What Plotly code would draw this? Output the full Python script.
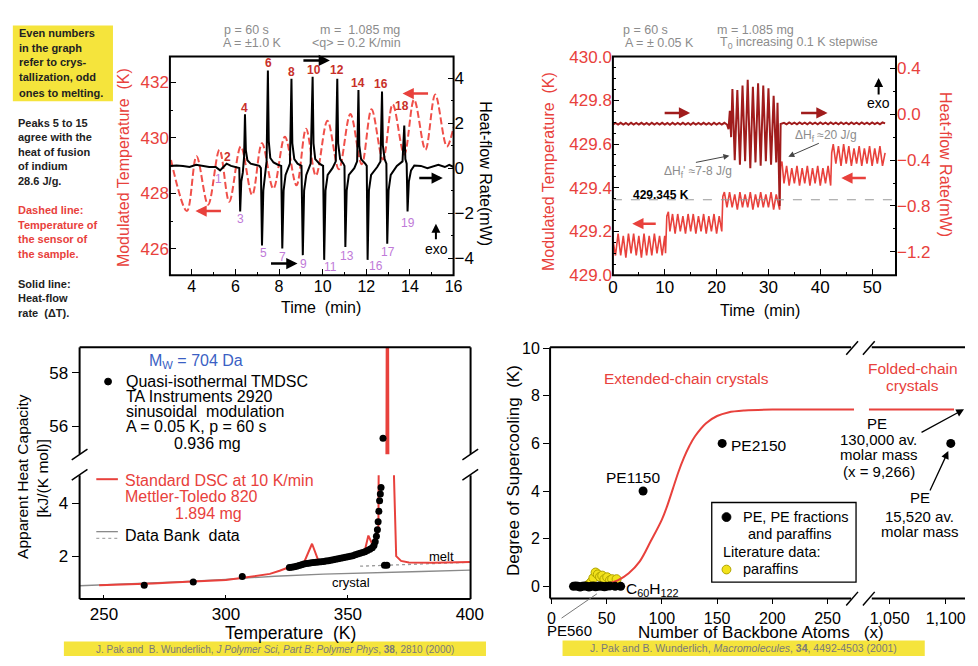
import plotly.graph_objects as go

W, H = 978, 666
FONT = "Liberation Sans, Arial, Helvetica, sans-serif"

# ================= DATA =================
# Panel A: modulated temperature (dashed, extrema)
a_temp_t = [3.05, 3.78, 4.22, 4.75, 5.27, 5.72, 6.25, 6.77, 7.22, 7.74, 8.27, 8.80, 9.24, 9.69,
            10.22, 10.74, 11.27, 11.79, 12.24, 12.76, 13.21, 13.74, 14.19, 14.71, 15.16, 15.69, 16.0]
a_temp_v = [429.2, 427.36, 429.34, 427.59, 429.57, 427.70, 429.69, 427.94, 429.81, 428.17, 430.04, 428.29,
            430.33, 428.64, 430.62, 428.87, 430.86, 429.05, 431.03, 429.22, 431.21, 429.40, 431.38, 429.57,
            431.56, 429.69, 430.39]
# Panel A: heat-flow rate (solid)
a_hf_t = [3.0, 3.3, 3.6, 3.9, 4.2, 4.5, 4.8, 5.1, 5.3, 5.45, 5.6, 5.8, 6.0, 6.18,
          6.22, 6.27, 6.34,
          6.40, 6.44, 6.48, 6.55, 6.7, 6.9, 7.1, 7.17,
          7.22, 7.28, 7.35, 7.43,
          7.49, 7.53, 7.6, 7.75, 7.95, 8.1,
          8.15, 8.21, 8.3, 8.5,
          8.57, 8.61, 8.7, 8.85, 9.03,
          9.09, 9.15, 9.25, 9.45,
          9.54, 9.58, 9.66, 9.85, 10.02,
          10.07, 10.13, 10.23, 10.45, 10.6,
          10.67, 10.71, 10.8, 10.95, 11.0,
          11.04, 11.1, 11.2, 11.45, 11.58,
          11.64, 11.68, 11.76, 11.95, 12.02,
          12.06, 12.12, 12.22, 12.5, 12.65,
          12.72, 12.76, 12.84, 12.92,
          12.96, 13.02, 13.12, 13.4, 13.66,
          13.74, 13.79, 13.85,
          13.89, 13.95, 14.05, 14.2, 14.5, 14.8, 15.0, 15.3, 15.6, 15.8, 16.0]
a_hf_v = [0.1, 0.12, 0.1, 0.05, 0.15, 0.1, 0.05, 0.05, -0.1, 0.05, 0.2, 0.1, 0.05, 0.0,
          -1.92, -0.6, -0.2,
          0.5, 2.39, 0.8, 0.35, 0.2, 0.15, 0.1, 0.0,
          -3.43, -1.0, -0.3, 0.3,
          4.33, 1.2, 0.45, 0.25, 0.15, 0.1,
          -3.57, -1.0, -0.3, 0.2,
          3.97, 1.1, 0.4, 0.2, 0.1,
          -3.86, -1.0, -0.3, 0.2,
          4.05, 1.1, 0.4, 0.2, 0.1,
          -4.07, -1.0, -0.3, 0.0, 0.3,
          3.97, 1.1, 0.4, 0.2, 0.1,
          -3.5, -1.0, -0.3, 0.0, 0.3,
          3.47, 1.0, 0.4, 0.2, 0.1,
          -4.07, -1.0, -0.3, 0.05, 0.3,
          3.4, 1.0, 0.4, 0.2,
          -3.35, -1.0, -0.3, 0.1, 0.3,
          1.89, 0.4, 0.2,
          -1.92, -0.6, -0.1, 0.12, 0.1, 0.0, 0.05, 0.15, 0.05, 0.15, 0.05]
a_even_labels = ["2", "4", "6", "8", "10", "12", "14", "16", "18"]
a_odd_labels = ["1", "3", "5", "7", "9", "11", "13", "16", "17", "19"]

# Panel B: modulated temperature (stepwise)
b_temp_t = [0.0, 0.5, 1.0, 1.5, 2.0, 2.5, 3.0, 3.5, 4.0, 4.5, 5.0, 5.5, 6.0, 6.5, 7.0, 7.5, 8.0, 8.5, 9.0, 9.5, 10.0,
            10.15, 10.4, 10.7,
            11.0, 11.5, 12.0, 12.5, 13.0, 13.5, 14.0, 14.5, 15.0, 15.5, 16.0, 16.5, 17.0, 17.5, 18.0, 18.5, 19.0,
            19.5, 20.0, 20.5, 21.0,
            21.2, 21.5,
            22.0, 22.5, 23.0, 23.5, 24.0, 24.5, 25.0, 25.5, 26.0, 26.5, 27.0, 27.5, 28.0, 28.5, 29.0, 29.5, 30.0,
            30.5, 31.0, 31.5, 32.0, 32.15,
            32.35, 32.6,
            33.0, 33.5, 34.0, 34.5, 35.0, 35.5, 36.0, 36.5, 37.0, 37.5, 38.0, 38.5, 39.0, 39.5, 40.0, 40.5, 41.0,
            41.5, 42.0,
            42.2, 42.5,
            43.0, 43.5, 44.0, 44.5, 45.0, 45.5, 46.0, 46.5, 47.0, 47.5, 48.0, 48.5, 49.0, 49.5, 50.0, 50.5, 51.0,
            51.5, 52.0, 52.5]
b_temp_v = [429.16, 429.09, 429.19, 429.09, 429.18, 429.08, 429.19, 429.10, 429.19, 429.09, 429.18, 429.08,
            429.19, 429.09, 429.18, 429.09, 429.19, 429.10, 429.18, 429.09, 429.18,
            429.10, 429.27, 429.29,
            429.20, 429.28, 429.19, 429.28, 429.20, 429.27, 429.19, 429.28, 429.20, 429.28, 429.19, 429.27,
            429.20, 429.28, 429.19, 429.27, 429.20, 429.28, 429.19, 429.27, 429.20,
            429.36, 429.38,
            429.31, 429.38, 429.31, 429.37, 429.30, 429.38, 429.31, 429.37, 429.31, 429.38, 429.30, 429.37,
            429.31, 429.38, 429.31, 429.37, 429.31, 429.38, 429.30, 429.37, 429.31, 429.30,
            429.50, 429.52,
            429.42, 429.50, 429.41, 429.49, 429.42, 429.50, 429.41, 429.49, 429.42, 429.50, 429.41, 429.49,
            429.42, 429.50, 429.41, 429.49, 429.42, 429.50, 429.41,
            429.56, 429.60,
            429.51, 429.59, 429.50, 429.60, 429.51, 429.59, 429.50, 429.58, 429.51, 429.59, 429.50, 429.58,
            429.51, 429.59, 429.50, 429.58, 429.51, 429.59, 429.50, 429.56]
# Panel B: heat-flow rate
b_hf_t = [0.0, 0.5, 1.0, 1.5, 2.0, 2.5, 3.0, 3.5, 4.0, 4.5, 5.0, 5.5, 6.0, 6.5, 7.0, 7.5, 8.0, 8.5, 9.0, 9.5,
          10.0, 10.5, 11.0, 11.5, 12.0, 12.5, 13.0, 13.5, 14.0, 14.5, 15.0, 15.5, 16.0, 16.5, 17.0, 17.5,
          18.0, 18.5, 19.0, 19.5, 20.0, 20.5, 21.0, 21.5, 22.0,
          22.3, 22.55, 22.8, 23.05, 23.5, 24.0, 24.5, 25.0, 25.5, 26.0, 26.5, 27.0, 27.5, 28.0, 28.5, 29.0,
          29.5, 30.0, 30.5, 31.0, 31.5, 31.75, 32.0, 32.15, 32.35,
          33.0, 33.5, 34.0, 34.5, 35.0, 35.5, 36.0, 36.5, 37.0, 37.5, 38.0, 38.5, 39.0, 39.5, 40.0, 40.5,
          41.0, 41.5, 42.0, 42.5, 43.0, 43.5, 44.0, 44.5, 45.0, 45.5, 46.0, 46.5, 47.0, 47.5, 48.0, 48.5,
          49.0, 49.5, 50.0, 50.5, 51.0, 51.5, 52.0, 52.5]
b_hf_v = [-0.090, -0.076, -0.091, -0.075, -0.090, -0.077, -0.092, -0.075, -0.090, -0.076, -0.091, -0.075,
          -0.090, -0.077, -0.092, -0.075, -0.090, -0.076, -0.091, -0.075, -0.090, -0.077, -0.092, -0.075,
          -0.090, -0.076, -0.091, -0.075, -0.090, -0.077, -0.092, -0.075, -0.090, -0.076, -0.091, -0.075,
          -0.090, -0.077, -0.092, -0.075, -0.090, -0.076, -0.091, -0.075, -0.090,
          -0.13, 0.03, -0.20, 0.22, -0.40, 0.21, -0.44, 0.25, -0.41, 0.30, -0.47, 0.24, -0.42, 0.27, -0.45,
          0.25, -0.41, 0.225, -0.44, 0.16, -0.42, 0.10, -0.45, -0.80, -0.085,
          -0.075, -0.088, -0.072, -0.087, -0.074, -0.088, -0.072, -0.086, -0.074, -0.088, -0.072, -0.087,
          -0.074, -0.088, -0.072, -0.086, -0.074, -0.088, -0.072, -0.087, -0.074, -0.088, -0.072, -0.086,
          -0.074, -0.088, -0.072, -0.087, -0.074, -0.088, -0.072, -0.086, -0.074, -0.088, -0.072, -0.087,
          -0.074, -0.088, -0.072, -0.080]
b_ref_temp = 429.345

# Panel C: apparent heat capacity
c_dsc_T = [248, 260, 270, 280, 290, 300, 307, 313, 318, 322, 326, 330, 332.2, 335.3, 338.0, 342, 346, 350,
           354, 357.1, 358.4, 360, 361.5, 362.5, 363.1, 365.8, 366.2, 366.6, 368.9, 369.8, 371.8, 375, 385,
           395, 400]
c_dsc_cp = [0.90, 0.93, 0.97, 1.01, 1.05, 1.10, 1.18, 1.25, 1.33, 1.45, 1.58, 1.70, 1.80, 2.47, 1.80, 1.85,
            1.93, 2.00, 2.10, 2.28, 2.78, 2.45, 2.55, 3.0, 5.0, 55, 70, 55, 5.0, 2.0, 1.82, 1.76, 1.75,
            1.76, 1.78]
c_tmdsc_T = [266.5, 286.6, 306.7, 326, 327, 328, 329, 330, 331, 332, 333, 334, 335, 336, 337, 338, 339, 340,
             341, 342, 343, 344, 345, 346, 347, 348, 349, 350, 351, 352, 353, 354, 355, 356, 357, 358, 359,
             360, 360.7, 361.2, 361.7, 362.1, 362.4, 362.7, 363.0, 363.3, 363.6, 365.0, 366.0]
c_tmdsc_cp = [0.90, 1.02, 1.23, 1.57, 1.58, 1.60, 1.62, 1.65, 1.68, 1.70, 1.72, 1.73, 1.75, 1.76, 1.77, 1.78,
              1.79, 1.80, 1.82, 1.83, 1.85, 1.86, 1.88, 1.90, 1.92, 1.94, 1.96, 1.98, 2.00, 2.02, 2.05, 2.08,
              2.11, 2.14, 2.17, 2.21, 2.26, 2.32, 2.40, 2.55, 2.75, 3.0, 3.3, 3.7, 4.1, 4.35, 4.6, 1.66, 1.66]
c_tmdsc_hi_T = [364.4]
c_tmdsc_hi_cp = [55.55]
c_bank_crys_T = [240, 260, 280, 300, 320, 340, 360, 380, 400]
c_bank_crys_cp = [0.88, 0.95, 1.03, 1.12, 1.24, 1.32, 1.38, 1.42, 1.47]
c_bank_melt_T = [355, 370, 385, 400]
c_bank_melt_cp = [1.62, 1.67, 1.72, 1.77]

# Panel D: degree of supercooling
d_curve_x = [18, 30, 40, 50, 60, 70, 80, 90, 100, 105, 110, 115, 120, 125, 130, 140, 150, 160, 175, 200, 274]
d_curve_y = [0.0, 0.0, 0.03, 0.1, 0.25, 0.55, 1.05, 1.9, 2.8, 3.4, 4.1, 4.8, 5.4, 5.9, 6.3, 6.85, 7.15,
             7.3, 7.38, 7.42, 7.42]
d_curve_hi_x = [1031.3, 1107.5]
d_curve_hi_y = [7.42, 7.42]
d_pe_x = [20, 22, 24, 26, 28, 30, 32, 34, 36, 38, 40, 42, 44, 46, 48, 50, 53, 57.7, 62.7, 83, 154.6]
d_pe_y = [0.0, 0.02, 0.0, -0.03, 0.0, 0.02, 0.0, -0.03, 0.0, 0.02, -0.02, 0.0, 0.02, 0.0, -0.02, 0.0, 0.02,
          0.0, 0.0, 4.0, 6.0]
d_pe_hi_x = [1104.6]
d_pe_hi_y = [6.0]
d_par_x = [33, 36, 38, 40, 42, 44, 46, 48, 50.5, 53, 55, 59]
d_par_y = [0.05, 0.18, 0.35, 0.58, 0.5, 0.4, 0.45, 0.3, 0.38, 0.25, 0.3, 0.3]

# ================= COLOURS =================
RED = "#e8413c"
DASHRED = "#f0504a"
DRED = "#a01c1c"
EVEN = "#c8302a"
ODD = "#c07ad8"
GRAY = "#8c8c8c"
YEL = "#f5e43c"


def PXf(x):
    return x / W


def PYf(y):
    return 1 - y / H


def dx(a, b):
    return [a / W, b / W]


def dy(top, bottom):
    return [1 - bottom / H, 1 - top / H]


def ann(text, x, y, size=14, color="black", xa="center", ya="middle", angle=0):
    return dict(text=text, x=PXf(x), y=PYf(y), xref="paper", yref="paper", showarrow=False,
                font=dict(family=FONT, size=size, color=color), xanchor=xa, yanchor=ya, textangle=angle)


def arrow(xh, yh, xt, yt, color, width=2.5, head=2, size=0.9):
    return dict(text="", x=PXf(xh), y=PYf(yh), xref="paper", yref="paper", ax=xt - xh, ay=yt - yh,
                showarrow=True, arrowhead=head, arrowsize=size, arrowwidth=width, arrowcolor=color)


def line(x0, y0, x1, y1, color="black", width=2, dash=None):
    return dict(type="line", xref="paper", yref="paper", x0=PXf(x0), y0=PYf(y0), x1=PXf(x1), y1=PYf(y1),
                line=dict(color=color, width=width, dash=dash))


def rect(x0, y0, x1, y1, fill=None, color="black", width=2, layer="above"):
    return dict(type="rect", xref="paper", yref="paper", x0=PXf(x0), y0=PYf(y1), x1=PXf(x1), y1=PYf(y0),
                fillcolor=fill if fill else "rgba(0,0,0,0)", line=dict(color=color, width=width), layer=layer)


def dot(cx, cy, r, fill, lc=None):
    return dict(type="circle", xref="paper", yref="paper", x0=PXf(cx - r), x1=PXf(cx + r), y0=PYf(cy + r),
                y1=PYf(cy - r), fillcolor=fill, line=dict(color=lc if lc else fill, width=1))


fig = go.Figure()

# ---- Panel A traces
fig.add_trace(go.Scatter(x=a_temp_t, y=a_temp_v, mode="lines", xaxis="x", yaxis="y",
                         line=dict(color=DASHRED, width=2, dash="7px,3px", shape="spline", smoothing=1.0)))
fig.add_trace(go.Scatter(x=a_hf_t, y=a_hf_v, mode="lines", xaxis="x", yaxis="y2",
                         line=dict(color="black", width=2)))
# ---- Panel B traces
fig.add_trace(go.Scatter(x=b_temp_t, y=b_temp_v, mode="lines", xaxis="x2", yaxis="y3",
                         line=dict(color=RED, width=1.6)))
fig.add_trace(go.Scatter(x=b_hf_t, y=b_hf_v, mode="lines", xaxis="x2", yaxis="y4",
                         line=dict(color=DRED, width=2)))
# ---- Panel C traces
for ya in ("y5", "y6"):
    fig.add_trace(go.Scatter(x=c_bank_crys_T, y=c_bank_crys_cp, mode="lines", xaxis="x3", yaxis=ya,
                             line=dict(color="#8a8a8a", width=1.3)))
fig.add_trace(go.Scatter(x=c_bank_melt_T, y=c_bank_melt_cp, mode="lines", xaxis="x3", yaxis="y5",
                         line=dict(color="#9a9a9a", width=1.3, dash="dot")))
for ya in ("y5", "y6"):
    fig.add_trace(go.Scatter(x=c_dsc_T, y=c_dsc_cp, mode="lines", xaxis="x3", yaxis=ya,
                             line=dict(color=RED, width=2)))
fig.add_trace(go.Scatter(x=c_tmdsc_T, y=c_tmdsc_cp, mode="markers", xaxis="x3", yaxis="y5",
                         marker=dict(color="black", size=7)))
fig.add_trace(go.Scatter(x=c_tmdsc_hi_T, y=c_tmdsc_hi_cp, mode="markers", xaxis="x3", yaxis="y6",
                         marker=dict(color="black", size=7)))
# ---- Panel D traces
fig.add_trace(go.Scatter(x=d_par_x, y=d_par_y, mode="markers", xaxis="x4", yaxis="y7",
                         marker=dict(color="#f2e21b", size=9, line=dict(color="#b0a400", width=1))))
fig.add_trace(go.Scatter(x=d_curve_x, y=d_curve_y, mode="lines", xaxis="x4", yaxis="y7",
                         line=dict(color=RED, width=2, shape="spline")))
fig.add_trace(go.Scatter(x=d_curve_hi_x, y=d_curve_hi_y, mode="lines", xaxis="x5", yaxis="y7",
                         line=dict(color=RED, width=2)))
fig.add_trace(go.Scatter(x=d_pe_x, y=d_pe_y, mode="markers", xaxis="x4", yaxis="y7",
                         marker=dict(color="black", size=9)))
fig.add_trace(go.Scatter(x=d_pe_hi_x, y=d_pe_hi_y, mode="markers", xaxis="x5", yaxis="y7",
                         marker=dict(color="black", size=9)))

tf = lambda c="black", s=16: dict(family=FONT, size=s, color=c)
base = dict(showgrid=False, zeroline=False, showline=False, tickcolor="black", tickwidth=1.3)

layout_axes = dict(
    xaxis=dict(base, domain=dx(168, 457), range=[3.0, 16.0], anchor="y", dtick=2, ticks="inside", ticklen=6,
               minor=dict(dtick=1, ticks="inside", ticklen=3, tickcolor="black"), tickfont=tf()),
    yaxis=dict(base, domain=dy(49, 274), range=[425.05, 432.93], anchor="x", dtick=2, ticks="inside",
               ticklen=6, minor=dict(dtick=1, ticks="inside", ticklen=3, tickcolor="black"),
               tickfont=tf(RED, 17)),
    yaxis2=dict(base, overlaying="y", side="right", anchor="x", range=[-4.75, 4.95], dtick=2, ticks="inside",
                ticklen=6, minor=dict(dtick=1, ticks="inside", ticklen=3, tickcolor="black"), tickfont=tf("black", 17)),
    xaxis2=dict(base, domain=dx(619.3, 907.7), range=[0, 54.6], anchor="y3", dtick=10, ticks="inside",
                ticklen=6, minor=dict(dtick=5, ticks="inside", ticklen=3, tickcolor="black"), tickfont=tf("black", 17)),
    yaxis3=dict(base, domain=dy(49, 274), range=[429.0, 430.0], anchor="x2", dtick=0.2, tickformat=".1f",
                ticks="inside", ticklen=6, minor=dict(dtick=0.05, ticks="inside", ticklen=3, tickcolor="black"),
                tickfont=tf(RED, 17)),
    yaxis4=dict(base, overlaying="y3", side="right", anchor="x2", range=[-1.403, 0.502], dtick=0.4,
                tickformat=".1f", ticks="inside", ticklen=6,
                minor=dict(dtick=0.2, ticks="inside", ticklen=3, tickcolor="black"), tickfont=tf(RED, 17)),
    xaxis3=dict(base, domain=dx(76, 474.3), range=[240, 400.3], anchor="y5", dtick=50, ticks="inside",
                ticklen=4, ticklabelstandoff=3, tickfont=tf("black", 17)),
    yaxis5=dict(base, domain=dy(480, 607.3), range=[0.38, 5.06], anchor="x3", dtick=2, ticks="outside",
                ticklen=7, tickfont=tf("black", 17)),
    yaxis6=dict(base, domain=dy(348.3, 458.3), range=[54.95, 58.95], anchor="x3", dtick=2, ticks="outside",
                ticklen=7, tickfont=tf("black", 17)),
    xaxis4=dict(base, domain=dx(555.3, 865), range=[-1.2, 274], anchor="y7", dtick=50, ticks="outside",
                ticklen=5, tickfont=tf("black", 16)),
    xaxis5=dict(base, domain=dx(880, 978), range=[1031.3, 1117.3], anchor="y7", tickmode="array",
                tickvals=[1050, 1100], ticktext=["1,050", "1,100"], ticks="outside", ticklen=5,
                tickfont=tf("black", 16)),
    yaxis7=dict(base, domain=dy(348.3, 606.7), range=[-0.505, 10.03], anchor="x4", dtick=2, ticks="outside",
                ticklen=6, tickfont=tf("black", 16)),
)

shapes = [
    # yellow boxes
    rect(8, 17, 110, 95, fill=YEL, color=YEL, width=0, layer="below"),
    rect(60, 651, 490, 666, fill=YEL, color=YEL, width=0, layer="below"),
    rect(568, 650, 937, 666, fill=YEL, color=YEL, width=0, layer="below"),
    # frames A, B
    rect(168, 49, 457, 274),
    rect(619.3, 49, 907.7, 274),
    # frame C (broken)
    line(76, 348.3, 474.3, 348.3), line(76, 607.3, 474.3, 607.3),
    line(76, 348.3, 76, 458), line(76, 480, 76, 607.3),
    line(474.3, 348.3, 474.3, 458), line(474.3, 480, 474.3, 607.3),
    line(68, 464, 84, 453, width=1.5), line(68, 485, 84, 474, width=1.5),
    line(466, 464, 482, 453, width=1.5), line(466, 485, 482, 474, width=1.5),
    # frame D (broken)
    line(555.3, 348.3, 555.3, 606.7),
    line(555.3, 348.3, 862, 348.3), line(883, 348.3, 978, 348.3),
    line(555.3, 606.7, 862, 606.7), line(883, 606.7, 978, 606.7),
    line(857, 356, 869, 342, width=1.5), line(874, 356, 886, 342, width=1.5),
    line(857, 614, 869, 600, width=1.5), line(874, 614, 886, 600, width=1.5),
    # reference temperature line in B
    dict(type="line", xref="x2 domain", yref="y3", x0=0, x1=1, y0=b_ref_temp, y1=b_ref_temp,
         line=dict(color="#999999", width=1.2, dash="dash")),
    # legend symbols C
    dot(105, 383.5, 3.5, "black"),
    line(93, 484, 115, 484, color=RED, width=2),
    line(93, 538, 115, 538, color="#8a8a8a", width=1.3),
    line(93, 545, 115, 545, color="#aaaaaa", width=1.3, dash="dot"),
    # legend D
    rect(720, 508, 867, 590, width=1.3),
    dot(735, 523, 4.5, "black"),
    dot(735, 577, 4.5, "#f2e21b", "#b0a400"),
    # PE560 pointer
    line(567, 627, 603, 602, color="#777777", width=1),
]

anns = []
# ---- Panel A texts
for t, x, y in [("Even numbers", 12, 25), ("in the graph", 12, 40), ("refer to crys-", 12, 55),
                ("tallization, odd", 12, 70.5), ("ones to melting.", 12, 86)]:
    anns.append(ann("<b>" + t + "</b>", x, y, 11, "#222222", xa="left"))
for t, y in [("Peaks 5 to 15", 117), ("agree with the", 132), ("heat of fusion", 147), ("of indium", 162),
             ("28.6 J/g.", 177)]:
    anns.append(ann("<b>" + t + "</b>", 11, y, 11, "#222222", xa="left"))
for t, y in [("Dashed line:", 207), ("Temperature of", 222), ("the sensor of", 237), ("the sample.", 252)]:
    anns.append(ann("<b>" + t + "</b>", 11, y, 11, RED, xa="left"))
for t, y in [("Solid line:", 283), ("Heat-flow", 298), ("rate  (ΔT).", 313)]:
    anns.append(ann("<b>" + t + "</b>", 11, y, 11, "#222222", xa="left"))
anns += [
    ann("p = 60 s", 246, 22, 12.5, GRAY), ann("m =  1.085 mg", 362, 22, 12.5, GRAY),
    ann("A = ±1.0 K", 252, 35, 12.5, GRAY), ann("&lt;q&gt; = 0.2 K/min", 358, 35, 12.5, GRAY),
    ann("Modulated Temperature  (K)", 121, 163, 16, RED, angle=-90),
    ann("Heat-flow Rate(mW)", 490, 170, 16, "black", angle=90),
    ann("Time  (min)", 322, 307, 16),
    ann("exo", 440, 247, 14),
]
even_pos = [(227, 152), (244, 102), (268, 56), (292, 65), (315, 63), (338, 63), (360, 76), (383, 77), (404, 100)]
odd_pos = [(217, 175), (240, 216), (263, 251), (283, 255), (304, 263), (332, 266), (348, 254), (378, 265),
           (390, 250), (411, 220)]
for lab, (x, y) in zip(a_even_labels, even_pos):
    anns.append(ann("<b>" + lab + "</b>", x, y, 12, EVEN))
for lab, (x, y) in zip(a_odd_labels, odd_pos):
    anns.append(ann(lab, x, y, 12, ODD))
anns += [
    arrow(194, 208, 221, 208, RED), arrow(405, 87, 432, 87, RED),
    arrow(331, 53, 303, 53, "black"), arrow(298, 262, 270, 262, "black"), arrow(446, 174, 421, 174, "black"),
    arrow(439, 221, 439, 238, "black", width=2),
]
# ---- Panel B texts
anns += [
    ann("p = 60 s", 652, 22, 12.5, GRAY), ann("m = 1.085 mg", 765, 22, 12.5, GRAY),
    ann("A = ± 0.05 K", 667, 35, 12.5, GRAY), ann("T<sub>0</sub> increasing 0.1 K stepwise", 809, 35, 12.5, GRAY),
    ann("Modulated Temperature  (K)", 553, 167, 16, RED, angle=-90),
    ann("Heat-flow Rate(mW)", 958, 160, 16, RED, angle=90),
    ann("Time  (min)", 769, 310, 16),
    ann("<b>429.345 K</b>", 668, 191, 12),
    ann("ΔH<sub>f</sub> ≈20 J/g", 836, 131, 12, GRAY),
    ann("ΔH<sub>f</sub>' ≈7-8 J/g", 706, 168, 12, GRAY),
    ann("exo", 890, 97, 14),
    arrow(698, 107, 671, 107, DRED), arrow(838, 107, 810, 107, DRED),
    arrow(639, 221, 664, 221, RED), arrow(852, 174, 878, 174, RED),
    arrow(890, 71, 890, 89, "black", width=2),
    arrow(798, 152, 830, 138, "#444444", width=1, head=2, size=1.2),
    arrow(738, 151, 703, 158, "#444444", width=1, head=2, size=1.2),
]
# ---- Panel C texts
anns += [
    ann("M<sub>W</sub> = 704 Da", 195, 363, 16, "#3b5fc4"),
    ann("Quasi-isothermal TMDSC", 121, 383, 16, xa="left"),
    ann("TA Instruments 2920", 121, 399, 16, xa="left"),
    ann("sinusoidal  modulation", 121, 414, 16, xa="left"),
    ann("A = 0.05 K, p = 60 s", 121, 430, 16, xa="left"),
    ann("0.936 mg", 206, 447, 16),
    ann("Standard DSC at 10 K/min", 120, 485, 16, RED, xa="left"),
    ann("Mettler-Toledo 820", 120, 502, 16, RED, xa="left"),
    ann("1.894 mg", 207, 519, 16, RED),
    ann("Data Bank  data", 120, 542, 16, xa="left"),
    ann("melt", 445, 564, 13),
    ann("crystal", 352, 590, 13),
    ann("Apparent Heat Capacity", 18, 481, 15.5, angle=-90),
    ann("[kJ/(K mol)]", 38, 483, 15.5, angle=-90),
    ann("Temperature  (K)", 291, 642, 17.5),
    ann("J. Pak and  B. Wunderlich, <i>J Polymer Sci, Part B: Polymer Phys</i>, <b>38</b>, 2810 (2000)",
        275, 659, 10, "#7a7a7a"),
]
# ---- Panel D texts
anns += [
    ann("Extended-chain crystals", 694, 380, 15.5, RED),
    ann("Folded-chain", 925, 370, 15.5, RED), ann("crystals", 925, 388, 15.5, RED),
    ann("PE2150", 768, 449, 15.5), ann("PE1150", 640, 482, 15.5),
    ann("C<sub>60</sub>H<sub>122</sub>", 660, 598, 15.5),
    ann("PE560", 575, 640, 15),
    ann("PE", 888, 427, 15), ann("130,000 av.", 890, 443, 15), ann("molar mass", 890, 459, 15),
    ann("(x = 9,266)", 890, 476, 15),
    ann("PE", 932, 503, 15), ann("15,520 av.", 932, 522, 15), ann("molar mass", 932, 538, 15),
    ann("PE, PE fractions", 750, 523, 14.5, xa="left"),
    ann("and paraffins", 755, 540, 14.5, xa="left"),
    ann("Literature data:", 729, 559, 14.5, xa="left"),
    ann("paraffins", 750, 576, 14.5, xa="left"),
    ann("Degree of Supercooling  (K)", 518, 475, 17, angle=-90),
    ann("Number of Backbone Atoms   (x)", 770, 642, 17),
    ann("J. Pak and B. Wunderlich, <i>Macromolecules</i>, <b>34</b>, 4492-4503 (2001)", 752, 658, 10.5,
        "#7a7a7a"),
    arrow(977, 412, 933, 436, "black", width=1.3, head=2, size=1.2),
    arrow(961, 455, 942, 496, "black", width=1.3, head=2, size=1.2),
]

fig.update_layout(
    width=W, height=H, margin=dict(l=0, r=0, t=0, b=0), showlegend=False,
    paper_bgcolor="white", plot_bgcolor="white", font=dict(family=FONT),
    shapes=shapes, annotations=anns, **layout_axes,
)

fig.write_html("out.html", config={"displayModeBar": False})
